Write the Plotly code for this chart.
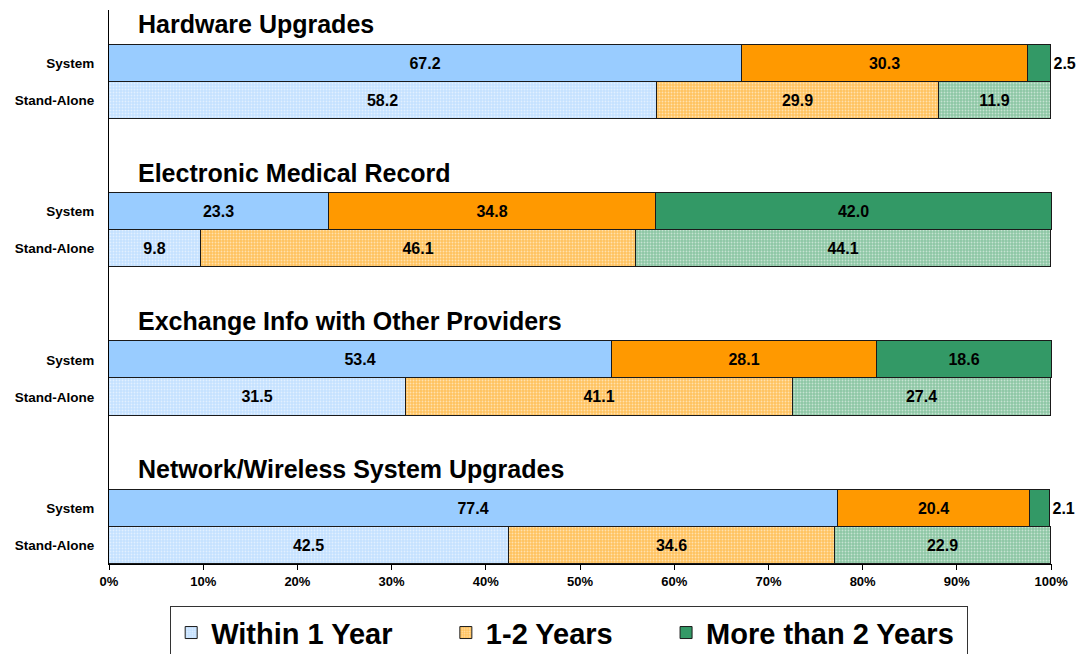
import plotly.graph_objects as go

# survey data: percent of respondents planning each IT investment
groups = ["Hardware Upgrades", "Electronic Medical Record",
          "Exchange Info with Other Providers", "Network/Wireless System Upgrades"]
periods = ["Within 1 Year", "1-2 Years", "More than 2 Years"]

system_vals = {
    "Within 1 Year": [67.2, 23.3, 53.4, 77.4],
    "1-2 Years": [30.3, 34.8, 28.1, 20.4],
    "More than 2 Years": [2.5, 42.0, 18.6, 2.1],
}
standalone_vals = {
    "Within 1 Year": [58.2, 9.8, 31.5, 42.5],
    "1-2 Years": [29.9, 46.1, 41.1, 34.6],
    "More than 2 Years": [11.9, 44.1, 27.4, 22.9],
}

x_ticks = [0, 10, 20, 30, 40, 50, 60, 70, 80, 90, 100]
x_ticktext = [f"{t}%" for t in x_ticks]

solid = {"Within 1 Year": "#99CCFF", "1-2 Years": "#FF9900", "More than 2 Years": "#339966"}
light = {"Within 1 Year": "#C4E1FF", "1-2 Years": "#FFC25E", "More than 2 Years": "#8CC6A4"}

# legend labels, padded so the entries spread out like the original
legend_names = {"Within 1 Year": "Within 1 Year" + "&nbsp;" * 6,
                "1-2 Years": "1-2 Years" + "&nbsp;" * 6,
                "More than 2 Years": "More than 2 Years&nbsp;"}

# each group takes 4 rows: title, System, Stand-Alone, gap
sys_pos = [4 * g + 1 for g in range(len(groups))]
sa_pos = [4 * g + 2 for g in range(len(groups))]

FONT = "Liberation Sans, Arial"
fig = go.Figure()

for p in periods:
    for kind, pos, vals in [("System", sys_pos, system_vals[p]), ("Stand-Alone", sa_pos, standalone_vals[p])]:
        marker = dict(color=solid[p], line=dict(color="#1a1a1a", width=1))
        if kind == "Stand-Alone":
            marker["color"] = light[p]
            marker["pattern"] = dict(shape=".", fgcolor="white", bgcolor=light[p], size=3, solidity=0.3)
        show = (kind == "Stand-Alone" and p != "More than 2 Years") or (kind == "System" and p == "More than 2 Years")
        fig.add_trace(go.Bar(
            y=pos, x=vals, orientation="h", name=f"<b>{legend_names[p]}</b>", width=1.0,
            marker=marker, showlegend=show, legendgroup=p,
            legendrank=periods.index(p),
            text=[f"<b>{v:.1f}</b>" for v in vals],
            # tiny end segments get their label just past the bar
            textposition=["outside" if v < 5 else "inside" for v in vals],
            textangle=0, insidetextanchor="middle", constraintext="none",
            textfont=dict(family=FONT, size=16, color="black"),
            insidetextfont=dict(family=FONT, size=16, color="black"),
            outsidetextfont=dict(family=FONT, size=16, color="black"),
            cliponaxis=False, hoverinfo="skip",
        ))

for g, title in enumerate(groups):
    fig.add_annotation(x=2.9, y=4 * g - 0.05, xref="x", yref="y", text=f"<b>{title}</b>",
                       showarrow=False, xanchor="left", yanchor="middle",
                       font=dict(family=FONT, size=25, color="black"))

fig.update_layout(
    width=1077, height=646, barmode="stack", bargap=0,
    plot_bgcolor="white", paper_bgcolor="white",
    margin=dict(l=101, r=33, t=2, b=90),
    font=dict(family=FONT, color="black"),
    legend=dict(orientation="h", x=0.488, xanchor="center",
                yref="container", y=0.074, yanchor="top",
                bordercolor="#333", borderwidth=1, traceorder="normal",
                font=dict(family=FONT, size=29, color="black"),
                bgcolor="white"),
)
# some rows sum to 100.1, keep the range just wide enough so their labels stay drawn
fig.update_xaxes(range=[0, 100.1], tickvals=x_ticks, ticktext=[f"<b>{t}</b>" for t in x_ticktext],
                 showgrid=False, zeroline=False, showline=True, linecolor="black", linewidth=1,
                 ticks="outside", ticklen=5, tickcolor="black",
                 tickfont=dict(family=FONT, size=13, color="black"))
fig.update_yaxes(range=[14.5, -0.43], tickvals=sys_pos + sa_pos,
                 ticktext=["<b>System</b>"] * 4 + ["<b>Stand-Alone</b>"] * 4,
                 showgrid=False, zeroline=False, showline=True, linecolor="black", linewidth=1,
                 ticks="", ticklabelstandoff=11,
                 tickfont=dict(family=FONT, size=13.5, color="black"))

fig.write_html("out.html")
